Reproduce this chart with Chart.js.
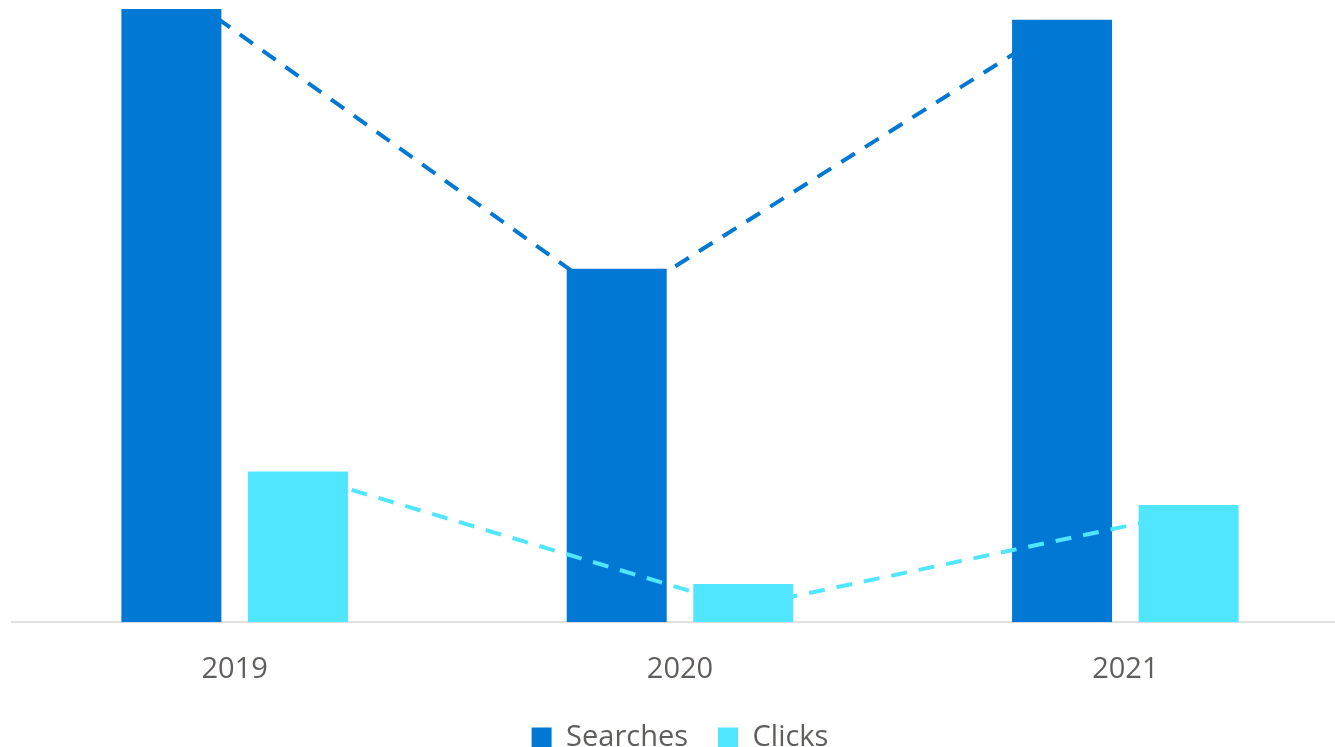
<!DOCTYPE html>
<html>
<head>
<meta charset="utf-8">
<title>Searches and Clicks by Year</title>
<script src="https://cdn.jsdelivr.net/npm/chart.js@4.4.1/dist/chart.umd.min.js"></script>
<style>
  html, body { margin: 0; padding: 0; background: #ffffff; }
  #frame { width: 1335px; height: 747px; overflow: hidden; position: relative; }
  #chart { display: block; }
</style>
</head>
<body>
<div id="frame"><canvas id="chart" width="1350" height="762"></canvas></div>
<script>
// Yearly categories
const years = ['2019', '2020', '2021'];

// Bar series
const searches = [1600, 922, 1572];
const clicks = [393, 100, 306];

// Dashed trend series, one point per bar
const searchesTrend = [1661, 833, 1562];
const clicksTrend = [387, 40, 285];

const SEARCH_BLUE = '#0078D4';
const CLICK_CYAN = '#50E6FF';
const TEXT_GREY = '#605E5C';
const FONT = "'Open Sans', 'Noto Sans', sans-serif";

// Share of a year's slot taken by its pair of bars, and of each bar's half
const GROUP_PCT = 0.5684;
const BAR_PCT = 0.79;
// Offset of each bar's centre from the centre of its year
const barShift = GROUP_PCT / 4;

// Each year sits at index i on a hidden linear axis that shares the
// category axis's extent, so bars and trend lines can sit side by side.
const points = (values, shift) =>
  values.map((v, i) => ({ x: i + shift, y: v }));

const barStyle = {
  type: 'bar',
  grouped: false,
  borderWidth: 0,
  categoryPercentage: 1,
  barPercentage: BAR_PCT
};

const trendStyle = {
  type: 'line',
  borderWidth: 4,
  borderDash: [16, 12],
  pointRadius: 0,
  fill: false,
  tension: 0
};

new Chart(document.getElementById('chart'), {
  data: {
    labels: years,
    datasets: [
      {
        ...barStyle,
        label: 'Searches',
        data: points(searches, -barShift),
        backgroundColor: SEARCH_BLUE,
        order: 3
      },
      {
        ...barStyle,
        label: 'Clicks',
        data: points(clicks, barShift),
        backgroundColor: CLICK_CYAN,
        order: 1
      },
      {
        ...trendStyle,
        label: 'Searches trend',
        data: points(searchesTrend, -barShift),
        borderColor: SEARCH_BLUE,
        order: 4
      },
      {
        ...trendStyle,
        label: 'Clicks trend',
        data: points(clicksTrend, barShift),
        borderColor: CLICK_CYAN,
        order: 2
      }
    ]
  },
  options: {
    responsive: false,
    animation: false,
    devicePixelRatio: 1,
    layout: { padding: { top: 9, left: 12, right: 2, bottom: 0 } },
    scales: {
      x: {
        type: 'linear',
        display: false,
        offset: false,
        min: -0.5,
        max: years.length - 0.5,
        ticks: { stepSize: 1 }
      },
      years: {
        type: 'category',
        axis: 'x',
        position: 'bottom',
        labels: years,
        offset: true,
        grid: { display: true, drawOnChartArea: false, drawTicks: false },
        border: { display: true, color: '#E1E1E1', width: 2 },
        ticks: {
          color: TEXT_GREY,
          font: { family: FONT, size: 29 },
          padding: 30,
          maxRotation: 0
        },
        // labels overlap the legend band a little, so the axis reserves less height
        afterFit(scale) {
          scale.height -= 24;
        }
      },
      y: {
        display: false,
        min: 0,
        max: 1600
      }
    },
    plugins: {
      tooltip: { enabled: false },
      legend: {
        position: 'bottom',
        labels: {
          color: TEXT_GREY,
          font: { family: FONT, size: 29 },
          boxWidth: 20,
          boxHeight: 20,
          padding: 30,
          filter: item => item.datasetIndex < 2,
          sort: (a, b) => a.datasetIndex - b.datasetIndex
        }
      }
    }
  }
});
</script>
</body>
</html>
